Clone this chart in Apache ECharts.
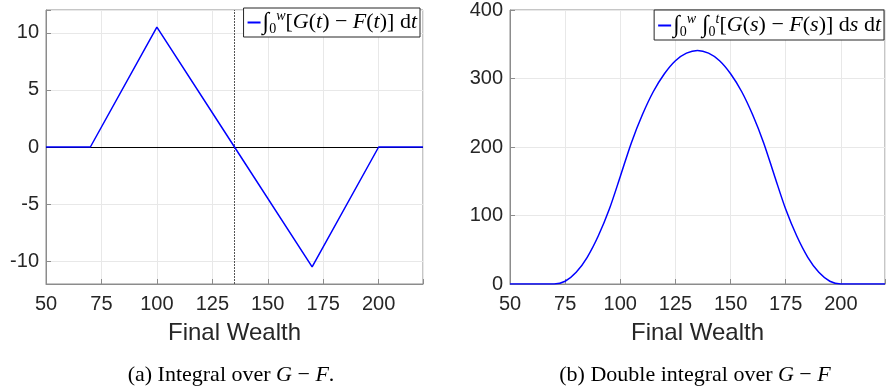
<!DOCTYPE html>
<html>
<head>
<meta charset="utf-8">
<script src="https://cdn.jsdelivr.net/npm/echarts@6/dist/echarts.min.js"></script>
<style>
  html, body { margin: 0; padding: 0; background: #fff; }
  #chart { width: 888px; height: 387px; }
</style>
</head>
<body>
<div id="chart"></div>
<script>
// values
const wealthA = [50, 70, 100, 135, 170, 200, 220];
const singleIntegral = [0, 0, 10.5, 0, -10.5, 0, 0];

const wealthB = [50, 70, 75, 80, 85, 90, 95, 100, 105, 110, 115, 120, 125, 130, 135,
  140, 145, 150, 155, 160, 165, 170, 175, 180, 185, 190, 195, 200, 220];
const doubleIntegral = [0, 0, 4, 17, 39, 70, 109, 157, 206, 247, 281, 307, 326, 337, 341,
  337, 326, 307, 281, 247, 206, 157, 109, 70, 39, 17, 4, 0, 0];

const xTicks = [50, 75, 100, 125, 150, 175, 200];
const yTicksA = [-10, -5, 0, 5, 10];
const crossing = 135;

const nameA = 'singleIntegral';
const nameB = 'doubleIntegral';

const axisGrey = '#8c8c8c';
const gridGrey = '#e8e8e8';
const textDark = '#262626';
const blue = '#0000ff';
const sans = 'Liberation Sans';
const serif = 'Liberation Serif';

function pairs(xs, ys) {
  return xs.map((x, i) => [x, ys[i]]);
}

function xAxis(gridIndex) {
  return {
    type: 'value', gridIndex: gridIndex, min: 50, max: 220, interval: 25,
    axisLine: {show: true, onZero: false, lineStyle: {color: axisGrey}},
    axisTick: {show: true, inside: true, length: 5, lineStyle: {color: axisGrey}},
    splitLine: {show: true, lineStyle: {color: gridGrey}},
    axisLabel: {
      color: textDark, fontFamily: sans, fontSize: 20, margin: 10,
      formatter: v => xTicks.indexOf(v) >= 0 ? String(v) : ''
    },
    name: 'Final Wealth', nameLocation: 'middle', nameGap: 37,
    nameTextStyle: {color: textDark, fontFamily: sans, fontSize: 24}
  };
}

function yAxis(gridIndex, min, max, interval, shown) {
  const ax = {
    type: 'value', gridIndex: gridIndex, min: min, max: max,
    axisLine: {show: true, onZero: false, lineStyle: {color: axisGrey}},
    axisTick: {show: true, inside: true, length: 5, lineStyle: {color: axisGrey}},
    splitLine: {show: true, lineStyle: {color: gridGrey}},
    axisLabel: {
      color: textDark, fontFamily: sans, fontSize: 20, margin: 7,
      formatter: v => (shown ? (shown.indexOf(v) >= 0 ? String(v) : '') : String(v))
    }
  };
  if (interval) ax.interval = interval;
  return ax;
}

const legendRich = {
  int: {fontFamily: serif, fontSize: 24, color: '#000', lineHeight: 27},
  sub: {fontFamily: serif, fontSize: 14, color: '#000', verticalAlign: 'bottom'},
  sup: {fontFamily: serif, fontSize: 14, fontStyle: 'italic', color: '#000', verticalAlign: 'top'},
  it: {fontFamily: serif, fontSize: 22, fontStyle: 'italic', color: '#000'},
  rm: {fontFamily: serif, fontSize: 22, color: '#000'}
};

function legend(name, right, top, padding) {
  return {
    data: [name], right: right, top: top, orient: 'vertical',
    icon: 'rect', itemWidth: 13, itemHeight: 2, itemGap: 0,
    backgroundColor: '#fff', borderColor: textDark, borderWidth: 1, borderRadius: 0,
    padding: padding,
    textStyle: {rich: legendRich, padding: [0, 0, 0, -3]},
    formatter: n => n === nameA
      ? '{int|∫}{sub|0}{sup|w}{rm|[}{it|G}{rm|(}{it|t}{rm|) − }{it|F}{rm|(}{it|t}{rm|)] d}{it|t}'
      : '{int|∫}{sub|0}{sup|w}{int| ∫}{sub|0}{sup|t}{rm|[}{it|G}{rm|(}{it|s}{rm|) − }{it|F}{rm|(}{it|s}{rm|)] d}{it|s}{rm| d}{it|t}'
  };
}

const captionRich = {
  rm: {fontFamily: serif, fontSize: 22, fontWeight: 'normal', color: '#000'},
  it: {fontFamily: serif, fontSize: 22, fontWeight: 'normal', fontStyle: 'italic', color: '#000'}
};

const chart = echarts.init(document.getElementById('chart'), null, {renderer: 'canvas'});
chart.setOption({
  animation: false,
  backgroundColor: '#fff',
  grid: [
    {left: 46, top: 10, width: 377, height: 274, show: true, borderColor: axisGrey, borderWidth: 1},
    {left: 510, top: 10, width: 377, height: 274, show: true, borderColor: axisGrey, borderWidth: 1}
  ],
  xAxis: [xAxis(0), xAxis(1)],
  yAxis: [yAxis(0, -12, 12, null, yTicksA), yAxis(1, 0, 400, 100, null)],
  legend: [legend(nameA, 468, 8, [1, 3, 1, 4]), legend(nameB, 4, 10, [2, 3, 1, 4])],
  title: [
    {
      text: '{rm|(a) Integral over }{it|G}{rm| − }{it|F}{rm|.}',
      left: 226, top: 359, textAlign: 'center',
      textStyle: {fontWeight: 'normal', rich: captionRich}
    },
    {
      text: '{rm|(b) Double integral over }{it|G}{rm| − }{it|F}',
      left: 690, top: 359, textAlign: 'center',
      textStyle: {fontWeight: 'normal', rich: captionRich}
    }
  ],
  series: [
    {
      name: nameA, type: 'line', xAxisIndex: 0, yAxisIndex: 0,
      data: pairs(wealthA, singleIntegral),
      showSymbol: false, z: 5,
      lineStyle: {color: blue, width: 1.5}, itemStyle: {color: blue},
      markLine: {
        silent: true, symbol: 'none', label: {show: false},
        data: [
          {yAxis: 0, lineStyle: {color: '#000', type: 'solid', width: 1}},
          {xAxis: crossing, lineStyle: {color: '#555', type: [2, 1], width: 1}}
        ]
      }
    },
    {
      name: nameB, type: 'line', xAxisIndex: 1, yAxisIndex: 1,
      data: pairs(wealthB, doubleIntegral),
      smooth: 0.3, showSymbol: false, z: 5,
      lineStyle: {color: blue, width: 1.5}, itemStyle: {color: blue}
    }
  ]
});
</script>
</body>
</html>
